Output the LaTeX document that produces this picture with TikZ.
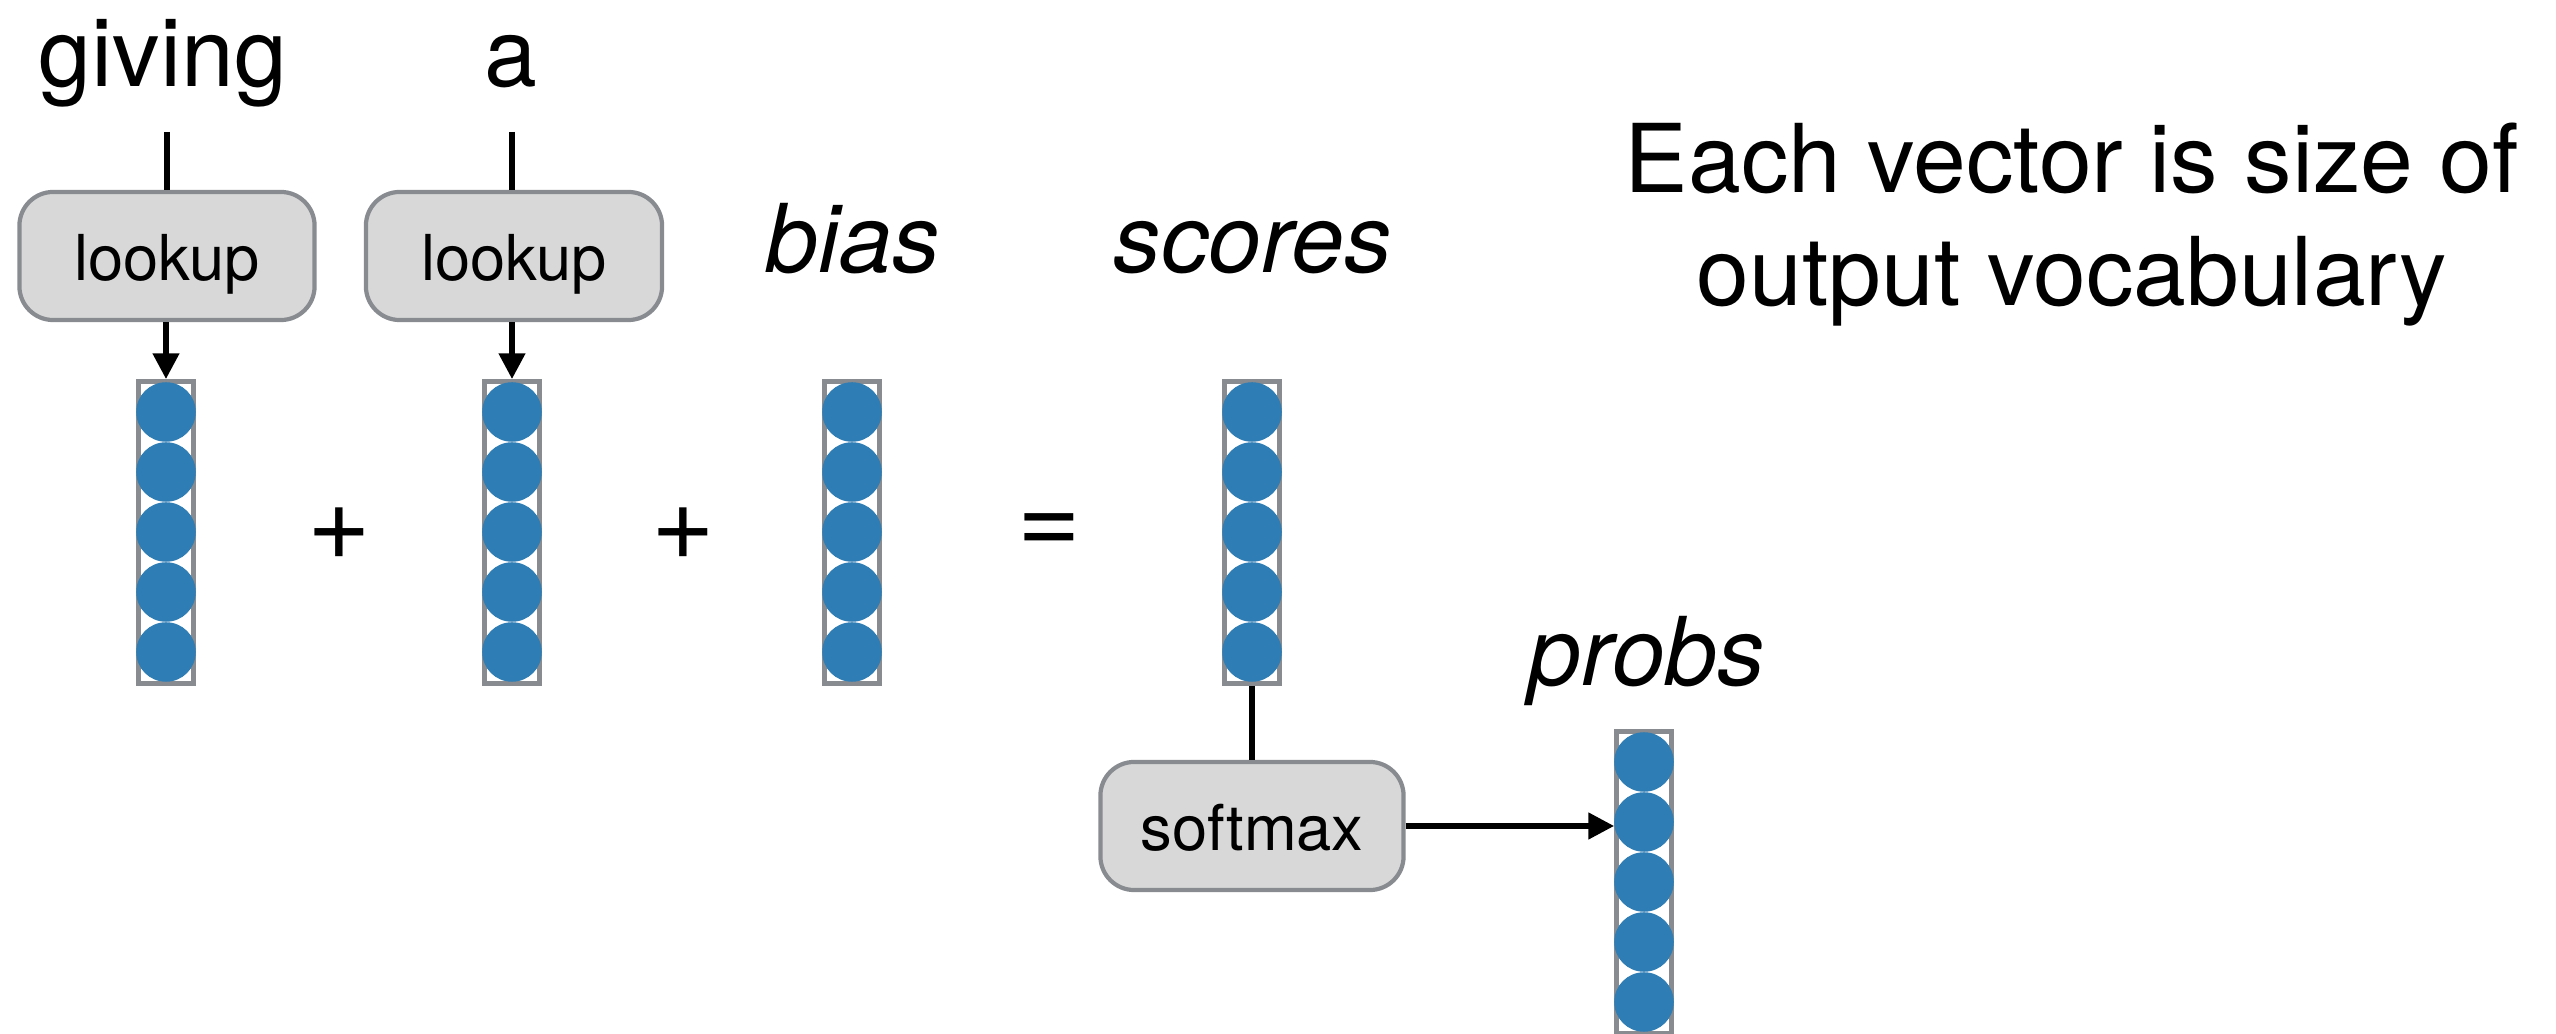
\documentclass[tikz,border=0pt]{standalone}
\usepackage{fontspec}
\setmainfont{TeX Gyre Heros}
\usetikzlibrary{arrows.meta}

\definecolor{unitblue}{RGB}{46,125,180}
\definecolor{boxfill}{RGB}{216,216,216}
\definecolor{edgegray}{RGB}{136,139,143}

\tikzset{
  wire/.style={line width=1.5pt, black},
  arr/.style={wire, -{Triangle[length=7.3pt, width=7.3pt]}},
  opbox/.style={draw=edgegray, line width=1.2pt, fill=boxfill,
    rounded corners=9.6pt, minimum height=12.8mm, inner sep=0pt,
    font=\fontsize{18}{21}\selectfont, text height=13.7pt, text depth=0pt},
  bigtxt/.style={font=\fontsize{27}{32}\selectfont, inner sep=0pt, anchor=base},
  italtxt/.style={bigtxt, font=\fontsize{27}{32}\selectfont\itshape},
  optxt/.style={font=\fontsize{31}{36}\selectfont, inner sep=0pt},
  vecframe/.style={draw=edgegray, line width=1.35pt, minimum width=5.5mm,
    minimum height=30.2mm, inner sep=0pt},
  unit/.style={circle, fill=unitblue, minimum size=5.95mm, inner sep=0pt},
}

\begin{document}
\begin{tikzpicture}[x=0.01cm, y=-0.01cm]
\useasboundingbox (0,0) rectangle (2556,1034);

% vectors: a grey frame holding five units
\foreach \n/\x/\t in {v1/166/379, v2/512/379, vb/852/379, vs/1252/379, vp/1644/729} {
  \node[vecframe] (\n) at (\x, \t+153.5) {};
  \foreach \k in {0,...,4}
    \node[unit] (\n-\k) at (\x, \t+33+60*\k) {};
}

% input words
\node[bigtxt] (giving) at (163,87) {giving};
\node[bigtxt] (wa) at (511,87) {a};
\coordinate (gtail) at (167,132);
\coordinate (atail) at (512,132);

% lookup operations
\node[opbox, minimum width=29.5mm] (lk1) at (167,256) {lookup};
\node[opbox, minimum width=29.6mm] (lk2) at (514,256) {lookup};

\draw[wire] (gtail) -- (lk1.north);
\draw[wire] (atail) -- (atail |- lk2.north);
\draw[arr] (lk1.south -| v1.north) -- (v1.north);
\draw[arr] (lk2.south -| v2.north) -- (v2.north);

% labels
\node[italtxt] (biaslbl) at (853,273) {bias};
\node[italtxt] (scoreslbl) at (1253,273) {scores};
\node[italtxt] (probslbl) at (1647,686) {probs};

% operators
\node[optxt] (plus1) at (339,534) {+};
\node[optxt] (plus2) at (683,534) {+};
\node[optxt] (equals) at (1049,534) {=};

% softmax
\node[opbox, minimum width=30.3mm] (sm) at (1252,826) {softmax};
\draw[wire] (vs.south) -- (sm.north);
\draw[arr] (sm.east) -- (sm.east -| vp.west);

% note
\node[bigtxt] (note1) at (2072,193) {Each vector is size of};
\node[bigtxt] (note2) at (2072,306) {output vocabulary};
\end{tikzpicture}
\end{document}
